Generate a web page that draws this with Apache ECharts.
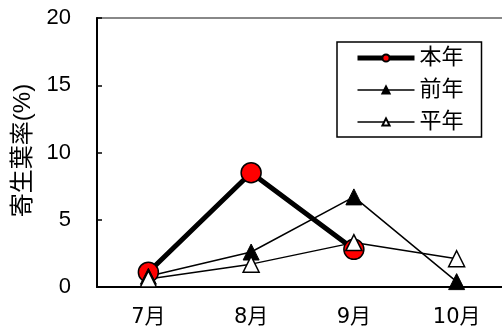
<!DOCTYPE html>
<html>

<head>
    <meta charset="utf-8" />
    <script src="https://cdn.jsdelivr.net/npm/echarts@6/dist/echarts.min.js"></script>
</head>

<body style="margin:0;">
    <div id="main" style="width: 502px; height:327px;"></div>
    <script type="text/javascript">
        var myChart = echarts.init(document.getElementById('main'));

        // データ
        var months = ['7月', '8月', '9月', '10月'];
        var honnen = [1.1, 8.5, 2.8];          // 本年
        var zennen = [0.8, 2.6, 6.7, 0.4];     // 前年
        var heinen = [0.6, 1.7, 3.3, 2.1];     // 平年
        var yTicks = [0, 5, 10, 15, 20];

        var font = '"Liberation Sans", "Noto Sans CJK JP", sans-serif';
        var wideFont = '"DejaVu Sans", "Noto Sans CJK JP", sans-serif';

        var option = {
            animation: false,
            grid: {
                left: 97,
                top: 18,
                bottom: 40,
                right: -6,
                outerBoundsMode: 'none',
                show: true,
                borderColor: '#888',
                borderWidth: 2
            },
            legend: {
                orient: 'vertical',
                left: 337,
                top: 42,
                padding: [5, 18, 4, 18],
                itemGap: 10,
                itemWidth: 57,
                itemHeight: 9,
                borderColor: '#000',
                borderWidth: 1.5,
                backgroundColor: '#fff',
                textStyle: { fontFamily: font, fontSize: 22, color: '#000' },
                data: [
                    { name: '本年', lineStyle: { width: 5 } },
                    { name: '前年', lineStyle: { width: 1.5 } },
                    { name: '平年', lineStyle: { width: 1.5 } }
                ]
            },
            xAxis: {
                type: 'category',
                data: months,
                axisLine: { lineStyle: { color: '#000', width: 2 } },
                axisTick: { inside: true, length: 5, lineStyle: { color: '#000', width: 1.5 } },
                axisLabel: { color: '#000', fontFamily: wideFont, fontSize: 21, margin: 20 }
            },
            yAxis: {
                type: 'value',
                min: yTicks[0],
                max: yTicks[yTicks.length - 1],
                interval: 5,
                name: '寄生葉率(%)',
                nameLocation: 'middle',
                nameRotate: 90,
                nameGap: 62,
                nameTextStyle: { color: '#000', fontFamily: font, fontSize: 24, padding: [0, 0, 0, 4] },
                splitLine: { show: false },
                axisLine: { show: true, lineStyle: { color: '#000', width: 2 } },
                axisTick: { show: true, inside: true, length: 5, lineStyle: { color: '#000', width: 1.5 } },
                axisLabel: { color: '#000', fontFamily: font, fontSize: 22, margin: 26 }
            },
            series: [
                {
                    name: '本年',
                    type: 'line',
                    data: honnen,
                    symbol: 'circle',
                    symbolSize: 20,
                    lineStyle: { color: '#000', width: 5 },
                    itemStyle: { color: '#ff0000', borderColor: '#000', borderWidth: 1.5 }
                },
                {
                    name: '前年',
                    type: 'line',
                    data: zennen,
                    symbol: 'triangle',
                    symbolSize: 16,
                    lineStyle: { color: '#000', width: 1.5 },
                    itemStyle: { color: '#000', borderColor: '#000', borderWidth: 1 }
                },
                {
                    name: '平年',
                    type: 'line',
                    data: heinen,
                    symbol: 'triangle',
                    symbolSize: 16,
                    lineStyle: { color: '#000', width: 1.5 },
                    itemStyle: { color: '#fff', borderColor: '#000', borderWidth: 1.5 }
                }
            ]
        };

        myChart.setOption(option);
    </script>
</body>

</html>
